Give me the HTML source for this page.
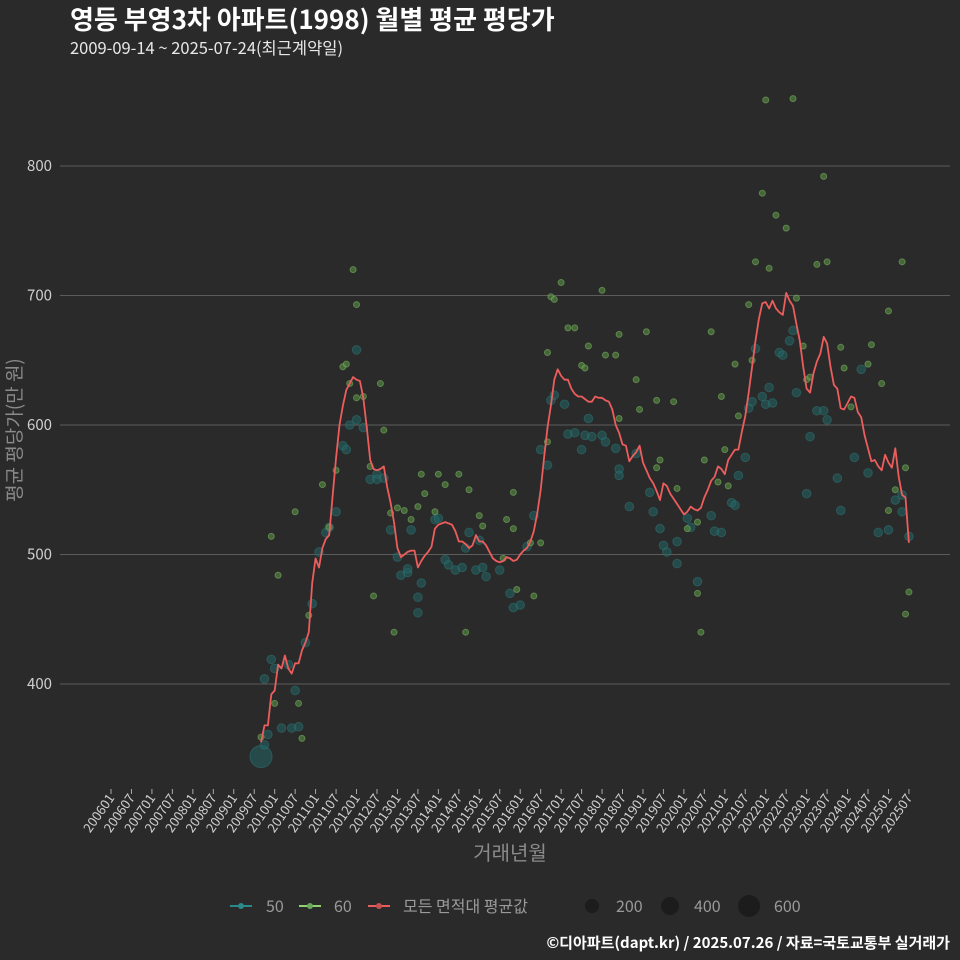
<!DOCTYPE html>
<html><head><meta charset="utf-8">
<style>
html,body{margin:0;padding:0;background:#2a2a2a;}
svg{display:block;font-family:"Liberation Sans","Noto Sans CJK KR",sans-serif;}
.k{font-family:"Noto Sans CJK KR","Liberation Sans",sans-serif;}
</style></head>
<body>
<svg id="chart" width="960" height="960" viewBox="0 0 960 960">
<rect x="0" y="0" width="960" height="960" fill="#2a2a2a"/>
<text class="k" x="70" y="29" fill="#ffffff" font-size="26" font-weight="bold">영등 부영3차 아파트(1998) 월별 평균 평당가</text>
<text class="k" x="70" y="54" fill="#e8e8e8" font-size="16.5">2009-09-14 ~ 2025-07-24(최근계약일)</text>
<g id="grid"></g>
<g id="yaxis"></g>
<g id="xaxis"></g>
<g id="points"></g>
<g id="line"></g>
<text class="k" x="0" y="0" transform="translate(21,430) rotate(-90)" text-anchor="middle" fill="#8a8a8a" font-size="19">평균 평당가(만 원)</text>
<text class="k" x="510" y="860" text-anchor="middle" fill="#8a8a8a" font-size="20">거래년월</text>
<g class="k">
  <g>
    <line x1="230" y1="906" x2="252" y2="906" stroke="#2a8a8a" stroke-width="2"/>
    <circle cx="241" cy="906" r="3" fill="#2a8a8a"/>
    <text x="266" y="912" fill="#9a9a9a" font-size="16">50</text>
  </g>
  <g>
    <line x1="299" y1="906" x2="321" y2="906" stroke="#8fd26f" stroke-width="2"/>
    <circle cx="310" cy="906" r="3" fill="#6aa85a"/>
    <text x="334" y="912" fill="#9a9a9a" font-size="16">60</text>
  </g>
  <g>
    <line x1="368" y1="906" x2="390" y2="906" stroke="#e85c5c" stroke-width="2"/>
    <circle cx="379" cy="906" r="3" fill="#c85050"/>
    <text x="403" y="912" fill="#9a9a9a" font-size="16">모든 면적대 평균값</text>
  </g>
  <g>
    <circle cx="592" cy="906" r="7" fill="#1c1c1c"/>
    <text x="616" y="912" fill="#9a9a9a" font-size="16">200</text>
  </g>
  <g>
    <circle cx="670" cy="906" r="9" fill="#1c1c1c"/>
    <text x="694" y="912" fill="#9a9a9a" font-size="16">400</text>
  </g>
  <g>
    <circle cx="749" cy="906" r="11" fill="#1c1c1c"/>
    <text x="774" y="912" fill="#9a9a9a" font-size="16">600</text>
  </g>
</g>
<text class="k" x="950" y="948" text-anchor="end" fill="#ffffff" font-size="15" font-weight="bold">©디아파트(dapt.kr) / 2025.07.26 / 자료=국토교통부 실거래가</text>
</svg>
<script>
const yTicks = [400, 500, 600, 700, 800];
const xTickLabels = ["200601","200607","200701","200707","200801","200807","200901","200907","201001","201007","201101","201107","201201","201207","201301","201307","201401","201407","201501","201507","201601","201607","201701","201707","201801","201807","201901","201907","202001","202007","202101","202107","202201","202207","202301","202307","202401","202407","202501","202507"];
// average line: monthly from 2009-09 (index 0)
const avgValues = [355,368,368,392,395,415,412,422,412,408,416,416,426,432,440,478,497,490,505,512,515,545,575,600,615,627,632,637,635,634,
621,598,573,566,565,566,568,552,540,525,505,498,500,502,503,503,490,495,499,502,506,520,523,524,525,524,523,518,510,510,
508,505,507,515,510,510,507,502,497,495,494,495,498,497,495,496,500,503,505,510,518,532,550,575,598,615,635,643,638,635,
635,628,624,622,622,620,618,618,622,621,621,619,618,612,600,594,585,584,572,576,579,584,571,565,559,555,549,542,555,553,
547,543,539,535,531,533,537,535,534,536,544,550,557,560,568,566,562,573,577,581,581,595,607,625,645,665,682,694,695,690,
696,690,687,685,702,696,692,678,665,645,628,625,640,649,655,668,663,645,631,628,613,612,617,622,621,610,606,592,582,572,
573,568,565,577,571,567,582,560,546,544,509];
// series 50 scatter: month index (from 2009-09) and value
const s50Month = [0,1,1,2,3,4,6,8,9,10,11,13,15,17,19,20,22,24,25,26,28,28,30,32,34,34,36,38,40,41,43,43,44,46,46,47,51,52,54,55,57,59,60,61,63,64,65,66,70,73,74,76,78,80,82,84,85,86,89,90,92,94,95,96,97,100,101,104,105,105,110,108,114,115,117,118,119,122,122,125,126,128,132,133,135,138,139,140,142,143,144,145,147,148,149,150,152,153,155,156,157,160,161,163,165,166,169,170,174,176,178,181,184,186,188,188,190];
const s50Value = [344,353,404,361,419,412,366,415,366,395,367,432,462,502,517,521,533,584,581,600,658,604,598,558,562,558,559,519,498,484,486,489,519,467,455,478,527,528,496,492,488,490,505,517,488,511,490,483,488,470,459,461,506,530,581,569,619,623,616,593,594,581,592,605,591,592,587,582,566,561,578,537,548,533,520,507,502,510,493,528,521,479,530,518,517,540,538,561,575,613,618,659,622,616,629,617,656,654,665,673,625,547,591,611,611,604,559,534,575,643,563,517,519,542,546,533,514];
const s50Count = [600,100,100,100,100,100,100,100,100,100,100,100,100,100,100,100,100,100,100,100,100,100,100,100,100,100,100,100,100,100,100,100,100,100,100,100,100,100,100,100,100,100,100,100,100,100,100,100,100,100,100,100,100,100,100,100,100,100,100,100,100,100,100,100,100,100,100,100,100,100,100,100,100,100,100,100,100,100,100,100,100,100,100,100,100,100,100,100,100,100,100,100,100,100,100,100,100,100,100,100,100,100,100,100,100,100,100,100,100,100,100,100,100,100,100,100,100];
// series 60 scatter
const s60Month = [0,3,5,4,11,10,12,14,18,20,22,24,25,26,27,28,28,30,32,33,35,36,38,39,40,42,44,46,47,48,52,54,51,58,60,61,64,65,71,72,74,75,74,79,80,82,84,84,85,86,88,90,92,94,95,96,100,101,104,105,105,110,111,113,116,117,116,121,122,125,128,128,129,130,132,134,135,136,137,139,140,143,144,145,147,148,149,151,154,156,157,159,160,161,163,165,166,170,171,173,178,179,182,184,184,186,188,189,189,190];
const s60Value = [359,514,484,385,385,533,358,453,554,521,565,645,647,632,720,621,693,622,568,468,632,596,532,440,536,534,527,537,562,547,562,554,533,562,440,550,530,522,497,527,520,473,548,509,468,509,587,656,699,697,710,675,675,646,644,661,704,654,654,605,670,635,612,672,619,573,567,618,551,520,525,470,440,573,672,556,622,581,553,647,607,693,650,726,779,851,721,762,752,852,698,661,635,637,724,792,726,660,644,614,647,662,632,534,688,550,726,454,567,471];

const NS = "http://www.w3.org/2000/svg";
const X0 = 111, XSTEP = 3.41, START_M = 44; // months from 2006-01
function xScale(monthIdx){ return X0 + (START_M + monthIdx) * XSTEP; }
function xTick(i){ return X0 + i * 6 * XSTEP; }
function yScale(v){ return 684 - (v - 400) * 1.295; }
function mk(tag, attrs, parent){ const e = document.createElementNS(NS, tag); for (const k in attrs) e.setAttribute(k, attrs[k]); parent.appendChild(e); return e; }

const grid = document.getElementById('grid'), yax = document.getElementById('yaxis'), xax = document.getElementById('xaxis');
yTicks.forEach(t => {
  const l = mk('line', {x1:60, x2:950, y1:yScale(t), y2:yScale(t), stroke:'#5c5c5c', 'stroke-width':1}, grid);
  
  
  const tx = mk('text', {x:52, y:yScale(t)+5, 'text-anchor':'end', fill:'#cfcfcf', 'font-size':15, class:'k'}, yax);
  tx.textContent = t;
  
  
});
xTickLabels.forEach((lab, i) => {
  const x = xTick(i);
  const tk = mk('line', {x1:x, x2:x, y1:789, y2:794, stroke:'#aaaaaa', 'stroke-width':1}, xax);
  
  
  const tx = mk('text', {x:0, y:0, transform:`translate(${x+4},${798}) rotate(-55)`, 'text-anchor':'end', fill:'#cfcfcf', 'font-size':13, class:'k'}, xax);
  tx.textContent = lab;
  
  
});

const pts = document.getElementById('points');
s50Month.forEach((m, i) => {
  const r = 4.3 * Math.sqrt(s50Count[i] / 100) * (s50Count[i] > 100 ? 1.05 : 1);
  const c = mk('circle', {cx:xScale(m), cy:yScale(s50Value[i]), r:r, fill:'rgba(35,100,100,0.55)', stroke:'rgba(45,120,120,0.5)', 'stroke-width':1}, pts);
  
  
});
s60Month.forEach((m, i) => {
  const c = mk('circle', {cx:xScale(m), cy:yScale(s60Value[i]), r:3, fill:'rgba(85,135,65,0.65)', stroke:'rgba(120,175,95,0.6)', 'stroke-width':1}, pts);
  
  
});

const d = avgValues.map((v, i) => (i ? 'L' : 'M') + xScale(i).toFixed(1) + ',' + yScale(v).toFixed(1)).join(' ');
const path = mk('path', {d:d, fill:'none', stroke:'#ec5d5d', 'stroke-width':1.8, 'stroke-linejoin':'round'}, document.getElementById('line'));


</script>
</body></html>
